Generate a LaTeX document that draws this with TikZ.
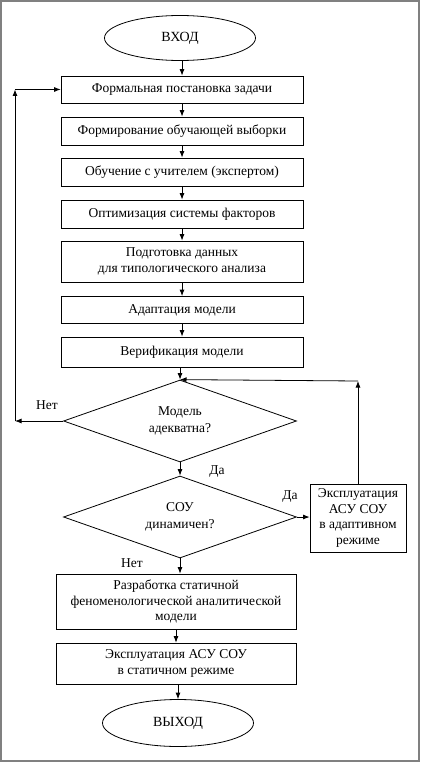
\documentclass[tikz,border=0pt]{standalone}
\usepackage{fontspec}
\setmainfont{Liberation Serif}
\usetikzlibrary{arrows,arrows.meta,shapes.geometric}

\begin{document}
\begin{tikzpicture}[->,>={Latex[length=6.5pt,width=5pt]},x=1pt,y=-1pt,line width=0.8pt,
  box node/.style={rectangle,draw,minimum width=242pt,inner sep=0pt,align=center,font=\fontsize{13.5}{15.5}\selectfont},
  term node/.style={ellipse,draw,minimum width=151pt,minimum height=45pt,inner sep=0pt,font=\fontsize{14}{16}\selectfont},
  test node/.style={diamond,draw,aspect=2.84,minimum width=233pt,minimum height=82pt,inner sep=0pt,align=center,font=\fontsize{13.5}{16.5}\selectfont},
  label node/.style={font=\fontsize{13.5}{15}\selectfont}]

  \useasboundingbox (0,0) rectangle (420,762);
  \draw[-,gray,line width=1.5pt] (1,1) rectangle (419,761);

  \node[term node] (in) at (180,38) {ВХОД};
  \node[box node,minimum height=27pt] (f1) at (182,89.5) {Формальная постановка задачи};
  \node[box node,minimum height=28pt] (f2) at (182,131) {Формирование обучающей выборки};
  \node[box node,minimum height=28pt] (f3) at (182,172) {Обучение с учителем (экспертом)};
  \node[box node,minimum height=28pt] (f4) at (182,214) {Оптимизация системы факторов};
  \node[box node,minimum height=41pt] (f5) at (182,261.5) {Подготовка данных\\для типологического анализа};
  \node[box node,minimum height=27pt] (f6) at (182,310) {Адаптация модели};
  \node[box node,minimum height=30pt] (f7) at (182,352) {Верификация модели};
  \node[test node] (d1) at (180,421) {Модель\\адекватна?};
  \node[test node] (d2) at (180,517) {СОУ\\динамичен?};
  \node[box node,minimum width=96pt,minimum height=68pt] (ra) at (358,518) {Эксплуатация\\АСУ СОУ\\в адаптивном\\режиме};
  \node[box node,minimum width=240pt,minimum height=55pt] (f8) at (176,601.5) {Разработка статичной\\феноменологической аналитической\\модели};
  \node[box node,minimum width=240pt,minimum height=41pt] (f9) at (176,663.5) {Эксплуатация АСУ СОУ\\в статичном режиме};
  \node[term node,minimum height=47pt] (out) at (178,723) {ВЫХОД};

  \coordinate (lb) at (15,421);
  \coordinate (lt) at (15,89.5);
  \coordinate (rt) at (358,381);

  \node[label node] (no1) at (47,405) {Нет};
  \node[label node] (yes1) at (217,472) {Да};
  \node[label node] (yes2) at (290,497) {Да};
  \node[label node] (no2) at (132,563) {Нет};

  \path (in.south -| f1.north) edge (f1)
    (f1) edge (f2)
    (f2) edge (f3)
    (f3) edge (f4)
    (f4) edge (f5)
    (f5) edge (f6)
    (f6) edge (f7)
    (f7.south -| d1.north) edge (d1.north)
    (d1) edge (d2)
    (d2.east) edge (d2.east -| ra.west)
    (d2.south) edge (d2.south |- f8.north)
    (f8.south -| f9.north) edge (f9)
    (f9.south -| out.north) edge (out.north);

  \draw (d1.west) -- (lb);
  \draw (lb) -- (lt);
  \draw (lt) -- (f1.west);
  \draw (ra.north) -- (rt);
  \draw (rt) -- (d1.north);

\end{tikzpicture}
\end{document}
